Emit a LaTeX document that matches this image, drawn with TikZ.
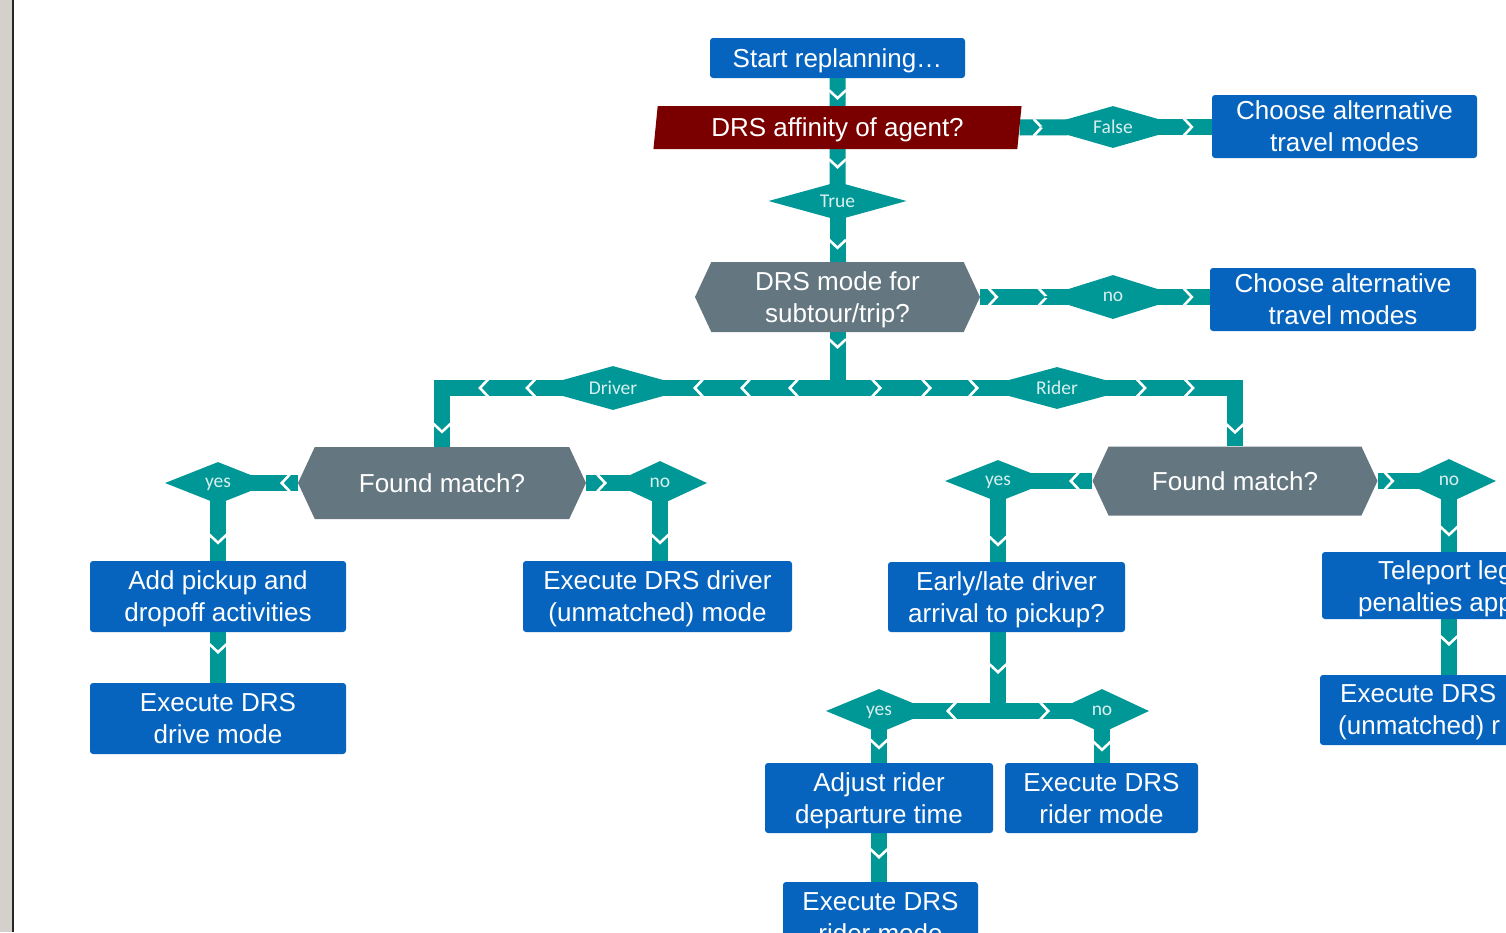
\documentclass[tikz,border=0pt]{standalone}
\usepackage{fontspec}
\setmainfont{Liberation Sans}
\newfontfamily\labelfont{Carlito}
\usetikzlibrary{shapes.geometric,shapes.symbols,decorations.markings,backgrounds}
\definecolor{boxblue}{RGB}{6,100,190}
\definecolor{flowteal}{RGB}{0,152,150}
\definecolor{hexgray}{RGB}{100,118,128}
\definecolor{darkred}{RGB}{122,0,0}
\definecolor{stripgray}{RGB}{212,208,203}

\begin{document}
\begin{tikzpicture}[x=1pt,y=-1pt,
  every node/.style={font=\fontsize{26}{32}\selectfont,text=white,inner sep=0pt,text depth=0pt},
  box node/.style={rectangle,rounded corners=3pt,fill=boxblue,align=center},
  hex node/.style={signal,signal to=east and west,signal pointer angle=130,
    fill=hexgray,align=center},
  dec node/.style={diamond,aspect=3.5,fill=flowteal,text=white!85!flowteal,
    font=\labelfont\fontsize{19.5}{20}\selectfont},
  link bar/.style={draw=flowteal,line width=16pt},
  chev at/.style={postaction={decorate,decoration={markings,
    mark=at position #1 with {\draw[white,line width=2.6pt] (-8,-8.5)--(0,0)--(-8,8.5);}}}}]

  \useasboundingbox (0,0) rectangle (1506,932);

  % top column
  \node[box node, minimum width=255pt, minimum height=40pt] (start) at (837.5,58) {Start replanning…};
  \node[trapezium, trapezium left angle=81, trapezium right angle=99, trapezium stretches=true,
    fill=darkred, minimum width=369pt, minimum height=43pt] (affin) at (837.5,127.5) {DRS affinity of agent?};
  \node[dec node, minimum width=138pt, minimum height=38pt] (tru) at (837.5,201) {True};
  \node[hex node, minimum width=285pt, minimum height=70pt] (mode) at (837.5,297) {DRS mode for\\subtour/trip?};
  \node[dec node, minimum width=146pt, minimum height=42pt] (fals) at (1113,127) {False};
  \node[box node, minimum width=265pt, minimum height=63pt] (alt1) at (1344.5,126.5) {Choose alternative\\travel modes};
  \node[dec node, minimum width=140pt, minimum height=44pt] (no1) at (1113,297) {no};
  \node[box node, minimum width=266pt, minimum height=63pt] (alt2) at (1343,299.5) {Choose alternative\\travel modes};
  \node[dec node, minimum width=158pt, minimum height=44pt] (drv) at (613,388) {Driver};
  \node[dec node, minimum width=156pt, minimum height=42pt] (rdr) at (1057,388) {Rider};

  % driver branch
  \node[hex node, minimum width=288pt, minimum height=72pt] (fm1) at (442,483) {Found match?};
  \node[dec node, minimum width=106pt, minimum height=42pt] (yes1) at (218,483) {yes};
  \node[dec node, minimum width=94pt, minimum height=44pt] (no2) at (660,483) {no};
  \node[box node, minimum width=256pt, minimum height=71pt] (pick) at (218,596.5) {Add pickup and\\dropoff activities};
  \node[box node, minimum width=269pt, minimum height=71pt] (unm1) at (657.5,596.5) {Execute DRS driver\\(unmatched) mode};
  \node[box node, minimum width=256pt, minimum height=71pt] (drv2) at (218,718.5) {Execute DRS\\drive mode};

  % rider branch
  \node[hex node, minimum width=285pt, minimum height=69pt] (fm2) at (1235,481) {Found match?};
  \node[dec node, minimum width=106pt, minimum height=42pt] (yes2) at (998,481) {yes};
  \node[dec node, minimum width=94pt, minimum height=44pt] (no3) at (1449,481) {no};
  \node[box node, minimum width=237pt, minimum height=70pt] (early) at (1006.5,597) {Early/late driver\\arrival to pickup?};
  \node[box node, minimum width=254pt, minimum height=67pt] (tele) at (1449,585.5) {};
  \node[anchor=base west] (tele1) at (1378,579.5) {Teleport leg};
  \node[anchor=base west] (tele2) at (1358,611.5) {penalties app};
  \node[box node, minimum width=258pt, minimum height=70pt] (unm2) at (1449,710) {};
  \node[anchor=base west] (unm2a) at (1340,702.5) {Execute DRS};
  \node[anchor=base west] (unm2b) at (1338,734.5) {(unmatched) r};
  \node[dec node, minimum width=106pt, minimum height=44pt] (yes3) at (879,711) {yes};
  \node[dec node, minimum width=94pt, minimum height=44pt] (no4) at (1102,711) {no};
  \node[box node, minimum width=228pt, minimum height=70pt] (adj) at (879,798) {Adjust rider\\departure time};
  \node[box node, minimum width=193pt, minimum height=70pt] (rid1) at (1101.5,798) {Execute DRS\\rider mode};
  \node[box node, minimum width=195pt, minimum height=70pt] (rid2) at (880.5,917) {Execute DRS\\rider mode};

  \begin{scope}[on background layer]
    \fill[white] (0,0) rectangle (1506,932);
    \fill[stripgray] (0,0) rectangle (12.3,932);
    \fill[black!85] (12.3,0) rectangle (14,932);
    % connectors run under the nodes
    \draw[link bar, chev at=20pt] (start.south) -- (affin.north);
    \draw[link bar, chev at=18pt] (affin.south) -- (tru.center);
    \draw[link bar, chev at=-14pt] (tru.center) -- (mode.north);
    \draw[link bar, chev at=22pt] (affin.east) -- (fals.center);
    \draw[link bar, chev at=-20pt] (fals.center) -- (fals -| alt1.west);
    \draw[link bar, chev at=16.5pt, chev at=66.5pt] (mode.east) -- (no1.center);
    \draw[link bar, chev at=-18pt] (no1.center) -- (no1 -| alt2.west);
    \draw[link bar, chev at=15pt, chev at=103.5pt, chev at=151.5pt, chev at=198.5pt] (mode.south) |- (drv.center);
    \draw[link bar, chev at=15pt, chev at=98.5pt, chev at=148.5pt, chev at=195.5pt] (mode.south) |- (rdr.center);
    \draw[link bar, chev at=86pt, chev at=133pt, chev at=-15pt] (drv.center) -| (fm1.north);
    \draw[link bar, chev at=88pt, chev at=136pt, chev at=-14pt] (rdr.center) -| (fm2.north);
    \draw[link bar, chev at=16pt] (fm1.west) -- (yes1.center);
    \draw[link bar, chev at=-18pt] (yes1.center) -- (pick.north);
    \draw[link bar, chev at=19pt] (fm1.east) -- (no2.center);
    \draw[link bar, chev at=-18pt] (no2.center) -- (no2 |- unm1.north);
    \draw[link bar, chev at=20pt] (pick.south) -- (drv2.north);
    \draw[link bar, chev at=21.5pt] (fm2.west) -- (yes2.center);
    \draw[link bar, chev at=-17pt] (yes2.center) -- (yes2 |- early.north);
    \draw[link bar, chev at=15pt] (fm2.east) -- (no3.center);
    \draw[link bar, chev at=-17pt] (no3.center) -- (tele.north);
    \draw[link bar, chev at=25pt] (tele.south) -- (unm2.north);
    \draw[link bar, chev at=40pt, chev at=129pt] (yes2 |- early.south) |- (yes3.center);
    \draw[link bar, chev at=40pt, chev at=129pt] (yes2 |- early.south) |- (no4.center);
    \draw[link bar, chev at=-15pt] (yes3.center) -- (adj.north);
    \draw[link bar, chev at=-13pt] (no4.center) -- (no4 |- rid1.north);
    \draw[link bar, chev at=24pt] (adj.south) -- (adj.south |- rid2.north);
  \end{scope}
\end{tikzpicture}
\end{document}
